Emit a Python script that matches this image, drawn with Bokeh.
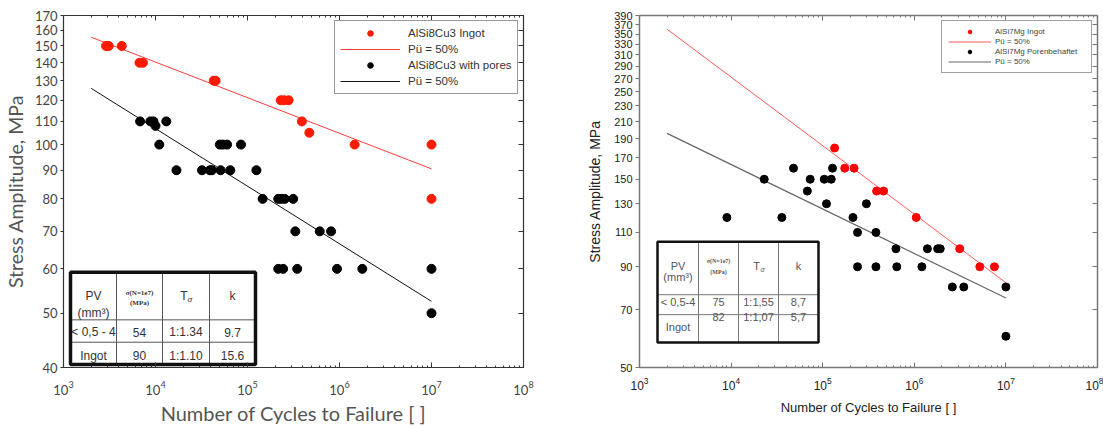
import math
from bokeh.plotting import figure
from bokeh.models import (Range1d, LogAxis, FixedTicker, Legend, LegendItem, BasicTickFormatter,
                          CustomJSTickFormatter)
from bokeh.layouts import row
from bokeh.embed import file_html
from bokeh.resources import INLINE
from bokeh.core.properties import value

# ---------------- data: left chart (AlSi8Cu3) ----------------
l_ingot_N = [2.9e3, 3.1e3, 4.3e3, 6.7e3, 7.3e3, 4.3e4, 4.5e4, 2.3e5, 2.5e5, 2.8e5, 3.9e5, 4.7e5, 1.46e6, 1.0e7, 1.0e7]
l_ingot_S = [150, 150, 150, 140, 140, 130, 130, 120, 120, 120, 110, 105, 100, 100, 80]
l_pores_N = [6.8e3, 8.8e3, 9.5e3, 1.0e4, 1.31e4, 1.1e4, 1.69e4, 3.2e4, 3.9e4, 4.1e4, 5.1e4, 6.5e4, 1.25e5,
             5.0e4, 5.4e4, 6.0e4, 8.5e4, 1.46e5, 2.16e5, 2.33e5, 2.54e5, 3.14e5, 3.31e5, 6.1e5, 8.1e5,
             2.16e5, 2.44e5, 3.47e5, 9.4e5, 1.77e6, 1.0e7, 1.0e7]
l_pores_S = [110, 110, 110, 108, 110, 100, 90, 90, 90, 90, 90, 90, 90,
             100, 100, 100, 100, 80, 80, 80, 80, 80, 70, 70, 70,
             60, 60, 60, 60, 60, 60, 50]
l_fit_N = [2e3, 1e7]
l_ingot_fit = [155.5, 90.5]
l_pores_fit = [126.0, 52.5]
l_yticks = [40, 50, 60, 70, 80, 90, 100, 110, 120, 130, 140, 150, 160, 170]
l_legend = ["AlSi8Cu3 Ingot", "Pü = 50%", "AlSi8Cu3 with pores", "Pü = 50%"]
l_table = [["< 0,5 - 4", "54", "1:1.34", "9.7"], ["Ingot", "90", "1:1.10", "15.6"]]

# ---------------- data: right chart (AlSi7Mg) ----------------
r_ingot_N = [1.35e5, 1.74e5, 2.2e5, 3.88e5, 4.62e5, 1.05e6, 3.13e6, 5.19e6, 7.5e6]
r_ingot_S = [180, 160, 160, 140, 140, 120, 100, 90, 90]
r_pores_N = [9.0e3, 2.3e4, 3.58e4, 4.8e4, 6.8e4, 7.3e4, 1.04e5, 1.24e5, 1.28e5, 1.1e5, 2.14e5, 3.0e5,
             2.4e5, 3.81e5, 2.4e5, 3.81e5, 6.3e5, 6.44e5, 1.21e6, 1.39e6, 1.8e6, 1.92e6, 2.6e6, 3.47e6,
             1.0e7, 1.0e7]
r_pores_S = [120, 150, 120, 160, 140, 150, 150, 150, 160, 130, 120, 130,
             110, 110, 90, 90, 100, 90, 90, 100, 100, 100, 80, 80,
             80, 60]
r_fit_N = [2e3, 1e7]
r_ingot_fit = [360.0, 82.0]
r_pores_fit = [196.0, 75.0]
r_yticks = [50, 70, 90, 110, 130, 150, 170, 190, 210, 230, 250, 270, 290, 310, 330, 350, 370, 390]
r_legend = ["AlSi7Mg Ingot", "Pü = 50%", "AlSi7Mg Porenbehaftet", "Pü = 50%"]
r_table = [["< 0,5-4", "75", "1:1,55", "8,7"], ["Ingot", "82", "1:1,07", "5,7"]]

x_decades = [1e3, 1e4, 1e5, 1e6, 1e7, 1e8]
x_minor = [m * d for d in x_decades[:-1] for m in range(2, 10)]


def mapper(fx0, fx1, fy0, fy1, xlo, xhi, ylo, yhi):
    """pixel (within the figure) -> data coords for a log/log frame"""
    def fx(px):
        return 10 ** (math.log10(xlo) + (px - fx0) / (fx1 - fx0) * (math.log10(xhi) - math.log10(xlo)))

    def fy(py):
        return 10 ** (math.log10(ylo) + (fy1 - py) / (fy1 - fy0) * (math.log10(yhi) - math.log10(ylo)))
    return fx, fy


def base_fig(width, xr, yr, borders, frame_color, frame_w):
    p = figure(width=width, height=427, x_axis_type="log", y_axis_type="log",
               x_range=Range1d(*xr), y_range=Range1d(*yr), output_backend="svg",
               toolbar_location=None, min_border_left=borders[0], min_border_right=borders[1],
               min_border_top=borders[2], min_border_bottom=borders[3])
    p.grid.visible = False
    p.outline_line_color = frame_color
    p.outline_line_width = frame_w
    p.background_fill_color = "white"
    p.border_fill_color = "white"
    return p


def mirror_axis(ticks, minor, color, minor_in):
    return LogAxis(ticker=FixedTicker(ticks=ticks, minor_ticks=minor),
                   formatter=CustomJSTickFormatter(code="return ''"),
                   major_label_text_font_size="1px", major_label_text_alpha=0,
                   major_label_standoff=0,
                   major_tick_in=5, major_tick_out=0, minor_tick_in=minor_in, minor_tick_out=0,
                   axis_line_color=color, major_tick_line_color=color, minor_tick_line_color=color)


def style_axes(p, yticks, color, tick_font, xsize, ysize, tick_color, ytick_out):
    xa = p.xaxis[0]
    xa.ticker = FixedTicker(ticks=x_decades, minor_ticks=x_minor)
    xa.major_tick_in = 5
    xa.major_tick_out = 0
    xa.minor_tick_in = 2
    xa.minor_tick_out = 0
    xa.axis_line_color = color
    xa.major_tick_line_color = color
    xa.minor_tick_line_color = color
    xa.major_label_text_font = tick_font
    xa.major_label_text_font_size = xsize
    xa.major_label_text_color = tick_color
    ya = p.yaxis[0]
    ya.ticker = FixedTicker(ticks=yticks, minor_ticks=[])
    ya.formatter = BasicTickFormatter()
    ya.major_tick_in = 0
    ya.major_tick_out = ytick_out
    ya.minor_tick_in = 0
    ya.minor_tick_out = 0
    ya.axis_line_color = color
    ya.major_tick_line_color = color
    ya.major_label_text_font = tick_font
    ya.major_label_text_font_size = ysize
    ya.major_label_text_color = tick_color
    ya.major_label_standoff = 3
    p.add_layout(mirror_axis(x_decades, x_minor, color, 2), "above")
    p.add_layout(mirror_axis(yticks, [], color, 0), "right")
    return xa, ya


def draw_table(p, fx, fy, cols, rows, outer_w, inner_color, cells, font, fsize, tcolor,
               hdr_pos, body_pos, sig_size, tsig):
    x0, x1 = fx(cols[0]), fx(cols[-1])
    y0, y1 = fy(rows[0]), fy(rows[-1])
    p.quad(left=[x0], right=[x1], top=[y0], bottom=[y1], fill_color="white",
           line_color=None)
    xs, ys = [], []
    for c in cols[1:-1]:
        xs.append([fx(c), fx(c)])
        ys.append([y0, y1])
    for r in rows[1:-1]:
        xs.append([x0, x1])
        ys.append([fy(r), fy(r)])
    p.multi_line(xs, ys, line_color=inner_color, line_width=1)
    p.quad(left=[x0], right=[x1], top=[y0], bottom=[y1], fill_color=None,
           line_color="#111", line_width=outer_w)
    centers = [(cols[i] + cols[i + 1]) / 2 for i in range(4)]
    (pv_y, mm_y, sg_y, mp_y, t_y) = hdr_pos
    p.text(x=[fx(centers[0]), fx(centers[0]), fx(centers[3])], y=[fy(pv_y), fy(mm_y), fy(t_y)],
           text=["PV", "(mm³)", "k"], text_font=value(font), text_font_size=fsize,
           text_color=tcolor, text_align="center", text_baseline="middle")
    p.text(x=[fx(centers[1]), fx(centers[1])], y=[fy(sg_y), fy(mp_y)],
           text=["σ(N=1e7)", "(MPa)"], text_font=value("Liberation Serif"),
           text_font_size=sig_size, text_font_style="bold",
           text_color=tcolor, text_align="center", text_baseline="middle")
    p.text(x=[fx(centers[2] - 2)], y=[fy(t_y)], text=["T"], text_font=value(font),
           text_font_size=fsize, text_color=tcolor, text_align="center", text_baseline="middle")
    p.text(x=[fx(centers[2] + 4)], y=[fy(t_y + 4)], text=["σ"], text_font=value(font),
           text_font_size=tsig, text_color=tcolor, text_align="center", text_baseline="middle",
           text_font_style="italic")
    for ri, rowvals in enumerate(cells):
        for ci, txt in enumerate(rowvals):
            yy = body_pos[ri][ci]
            p.text(x=[fx(centers[ci])], y=[fy(yy)], text=[txt], text_font=value(font),
                   text_font_size=fsize, text_color=tcolor, text_align="center",
                   text_baseline="middle")


# ================= LEFT FIGURE =================
LF = (63, 523, 15, 377)   # frame pixels x0,x1,y0,y1
p1 = base_fig(560, (1e3, 1e8), (40, 170), (63, 560 - 523, 15, 427 - 377), "#333", 1.2)
xa, ya = style_axes(p1, l_yticks, "#333", "Lato", "13px", "13px", "#444", 3)
xa.axis_label = "Number of Cycles to Failure [ ]"
xa.axis_label_text_font = "Lato"
xa.axis_label_text_font_size = "20px"
xa.axis_label_text_font_style = "normal"
xa.axis_label_text_color = "#555"
xa.major_label_standoff = 13
xa.axis_label_standoff = 3
ya.axis_label = "Stress Amplitude, MPa"
ya.axis_label_text_font = "Lato"
ya.axis_label_text_font_size = "19.5px"
ya.axis_label_text_font_style = "normal"
ya.axis_label_text_color = "#555"
ya.axis_label_standoff = 5

fx1, fy1 = mapper(LF[0], LF[1], LF[2], LF[3], 1e3, 1e8, 40, 170)
draw_table(p1, fx1, fy1, [70, 116, 162, 209, 255], [279, 328, 351, 374], 3.5, "#555",
           l_table, "Liberation Sans", "12px", "#333",
           (303, 321, 300, 311, 303), [[341] * 4, [365] * 4], "7px", "8px")

rl1 = p1.line(l_fit_N, l_ingot_fit, line_color="#ff3b3b", line_width=1)
rl2 = p1.line(l_fit_N, l_pores_fit, line_color="#111111", line_width=1)
rs1 = p1.scatter(l_ingot_N, l_ingot_S, size=9, color="#ff1a00")
rs2 = p1.scatter(l_pores_N, l_pores_S, size=9, color="#000000")

leg1 = Legend(items=[LegendItem(label=l_legend[0], renderers=[rs1]),
                     LegendItem(label=l_legend[1], renderers=[rl1]),
                     LegendItem(label=l_legend[2], renderers=[rs2]),
                     LegendItem(label=l_legend[3], renderers=[rl2])],
              location=(334 - LF[0], LF[3] - 96 - 8),
              label_text_font="Liberation Sans", label_text_font_size="11.5px", label_text_color="#333",
              glyph_width=60, glyph_height=14, label_height=14, spacing=2, padding=5,
              label_standoff=8, margin=0, border_line_color="#333", border_line_width=1.5,
              background_fill_alpha=1)
p1.add_layout(leg1, "center")

# ================= RIGHT FIGURE =================
RF = (639 - 560, 1097 - 560, 15, 368)
p2 = base_fig(543, (1e3, 1e8), (50, 390), (RF[0], 543 - RF[1], 15, 427 - 368), "#777", 1.5)
xb, yb = style_axes(p2, r_yticks, "#777", "Liberation Sans", "12px", "11px", "#222", 4)
xb.axis_label = "Number of Cycles to Failure [ ]"
xb.axis_label_text_font = "Liberation Sans"
xb.axis_label_text_font_size = "13px"
xb.axis_label_text_font_style = "normal"
xb.axis_label_text_color = "#222"
xb.major_label_standoff = 9
xb.axis_label_standoff = 7
yb.axis_label = "Stress Amplitude, MPa"
yb.axis_label_text_font = "Liberation Sans"
yb.axis_label_text_font_size = "14px"
yb.axis_label_text_font_style = "normal"
yb.axis_label_text_color = "#222"
yb.axis_label_standoff = 8

fx2, fy2 = mapper(RF[0], RF[1], RF[2], RF[3], 1e3, 1e8, 50, 390)
draw_table(p2, fx2, fy2, [657 - 560, 698 - 560, 738 - 560, 778 - 560, 818 - 560], [242, 295, 315, 343],
           2.5, "#777", r_table, "Liberation Sans", "11px", "#555",
           (266, 277, 261, 272, 266), [[302] * 4, [327, 317, 317, 317]], "6px", "7px")

ql1 = p2.line(r_fit_N, r_ingot_fit, line_color="#ff5a5a", line_width=1)
ql2 = p2.line(r_fit_N, r_pores_fit, line_color="#666666", line_width=1.2)
qs1 = p2.scatter(r_ingot_N, r_ingot_S, size=8, color="#ff0000")
qs2 = p2.scatter(r_pores_N, r_pores_S, size=8, color="#000000")

leg2 = Legend(items=[LegendItem(label=r_legend[0], renderers=[qs1]),
                     LegendItem(label=r_legend[1], renderers=[ql1]),
                     LegendItem(label=r_legend[2], renderers=[qs2]),
                     LegendItem(label=r_legend[3], renderers=[ql2])],
              location=(941 - 560 - RF[0], RF[3] - 69 - 5),
              label_text_font="Liberation Sans", label_text_font_size="8px", label_text_color="#444",
              glyph_width=43, glyph_height=9, label_height=9, spacing=1, padding=6,
              label_standoff=4, label_width=90, margin=0, border_line_color="#444",
              border_line_width=1, background_fill_alpha=1)
p2.add_layout(leg2, "center")

layout = row(p1, p2)
open("out.html", "w").write(file_html(layout, INLINE))
